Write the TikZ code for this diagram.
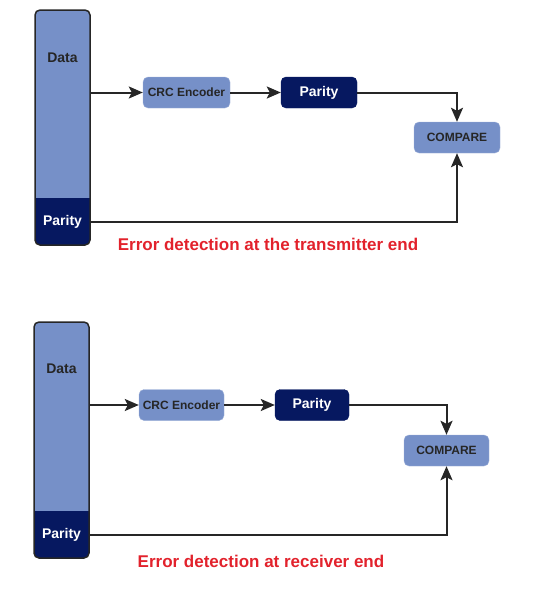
\documentclass[tikz,border=0pt]{standalone}
\usepackage{fontspec}
\setmainfont{Liberation Sans}
\usetikzlibrary{arrows.meta}
\definecolor{lightblue}{RGB}{118,144,200}
\definecolor{navy}{RGB}{6,24,96}
\definecolor{errred}{RGB}{226,34,44}
\definecolor{ink}{RGB}{38,38,38}
\begin{document}
\begin{tikzpicture}
[x=1pt,y=-1pt,>={Stealth[length=14pt,width=12pt,inset=3pt]},
box/.style={rounded corners=5pt,minimum height=31pt,inner sep=0pt},
lightbox/.style={box,fill=lightblue,draw=lightblue!70!white,text=ink,font=\bfseries\fontsize{12}{14}\selectfont},
darkbox/.style={box,fill=navy,draw=navy,text=white,font=\bfseries\fontsize{14}{16}\selectfont},
bar/.style={fill=lightblue,rounded corners=5pt,minimum width=55pt,inner sep=0pt,outer sep=0pt,anchor=north},
barlabel/.style={font=\bfseries\fontsize{14}{16}\selectfont},
wire/.style={draw=ink,line width=2pt},
caption/.style={text=errred,font=\bfseries\fontsize{17}{20}\selectfont},]

\useasboundingbox (0,0) rectangle (535,600);

%Transmitter end
\node (bar1) at (62.5,10)[bar,minimum height=235pt] {};
\begin{scope}
\clip[rounded corners=5pt] (bar1.north west) rectangle (bar1.south east);
\fill[navy] (35,198) rectangle (90,245);
\end{scope}
\draw[ink,line width=1.5pt,rounded corners=5pt] (bar1.north west) rectangle (bar1.south east);
\node (data1) at (62.5,58)[barlabel,text=ink] {Data};
\node (parity1) at (62.5,222)[barlabel,text=white] {Parity};

\node (crc1) at (186.5,92.5)[lightbox,minimum width=87pt] {CRC Encoder};
\node (chk1) at (319,92.5)[darkbox,minimum width=76pt] {Parity};
\node (cmp1) at (457,137.5)[lightbox,minimum width=86pt] {COMPARE};

\draw[wire,->] (bar1.east |- crc1) -- (crc1);
\draw[wire,->] (crc1) -- (chk1);
\draw[wire,->] (chk1) -| (cmp1);
\draw[wire,->] (bar1.east |- parity1) -| (cmp1);

\node (cap1) at (268,244)[caption] {Error detection at the transmitter end};

%Receiver end
\node (bar2) at (61.5,322)[bar,minimum height=236pt] {};
\begin{scope}
\clip[rounded corners=5pt] (bar2.north west) rectangle (bar2.south east);
\fill[navy] (34,511) rectangle (89,558);
\end{scope}
\draw[ink,line width=1.5pt,rounded corners=5pt] (bar2.north west) rectangle (bar2.south east);
\node (data2) at (61.5,369)[barlabel,text=ink] {Data};
\node (parity2) at (61.5,535)[barlabel,text=white] {Parity};

\node (crc2) at (181.5,405)[lightbox,minimum width=85pt] {CRC Encoder};
\node (chk2) at (312,405)[darkbox,minimum width=74pt] {Parity};
\node (cmp2) at (446.5,450.5)[lightbox,minimum width=85pt] {COMPARE};

\draw[wire,->] (bar2.east |- crc2) -- (crc2);
\draw[wire,->] (crc2) -- (chk2);
\draw[wire,->] (chk2) -| (cmp2);
\draw[wire,->] (bar2.east |- parity2) -| (cmp2);

\node (cap2) at (261,561)[caption] {Error detection at receiver end};
\end{tikzpicture}
\end{document}
